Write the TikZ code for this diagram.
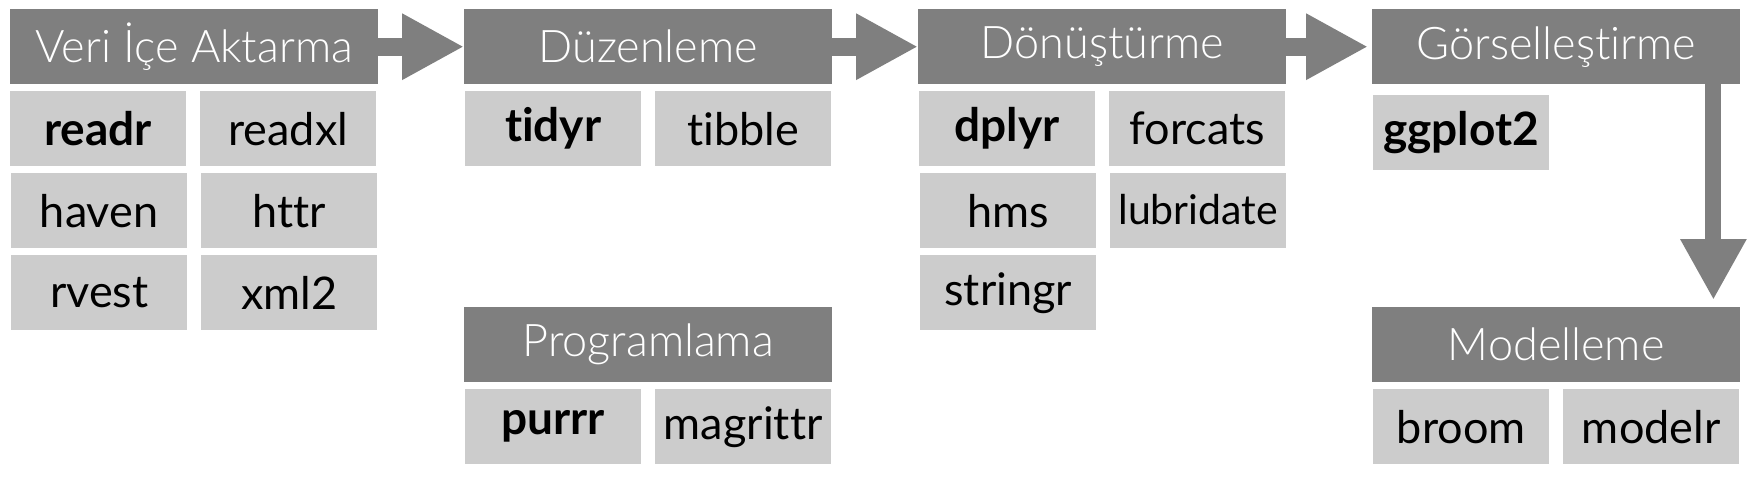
\documentclass[tikz,border=0pt]{standalone}
\usepackage{fontspec}
\setmainfont{Lato}[Ligatures=NoCommon]
\newfontfamily\hdrfont{Lato Light}[Ligatures=NoCommon]
\usetikzlibrary{arrows.meta,calc}
\definecolor{hdrgray}{HTML}{7F7F7F}
\definecolor{pkggray}{HTML}{CCCCCC}
\tikzset{
  hdr/.style={anchor=north west, fill=hdrgray, text=white, minimum width=368pt, minimum height=75pt, inner sep=0pt, font=\hdrfont\fontsize{45}{50}\selectfont},
  pkg/.style={anchor=north west, fill=pkggray, text=black, minimum width=176pt, minimum height=75pt, inner sep=0pt, font=\fontsize{45}{50}\selectfont},
  bpkg/.style={pkg, font=\bfseries\fontsize{46}{50}\selectfont},
  flow/.style={draw=hdrgray, line width=18pt, -{Triangle[length=62pt,width=62pt]}},
  flowv/.style={draw=hdrgray, line width=16pt, -{Triangle[length=61pt,width=62pt]}}
}
\begin{document}
\begin{tikzpicture}[x=1pt,y=-1pt]
\useasboundingbox (0,0) rectangle (1754,482);
% headers
\node[hdr] (h1) at (10,9) {Veri İçe Aktarma};
\node[hdr] (h2) at (464,9) {Düzenleme};
\node[hdr] (h3) at (918,9) {Dönüştürme};
\node[hdr] (h4) at (1372,9) {Görselleştirme};
\node[hdr] (h5) at (464,307) {Programlama};
\node[hdr] (h6) at (1372,307) {Modelleme};
% group 1
\node[bpkg] (readr) at (10,91) {readr};
\node[pkg] (readxl) at (200,91) {readxl};
\node[pkg] (haven) at (11,173) {haven};
\node[pkg] (httr) at (201,173) {httr};
\node[pkg] (rvest) at (11,255) {rvest};
\node[pkg] (xml2) at (201,255) {xml2};
% group 2
\node[bpkg] (tidyr) at (465,91) {tidyr};
\node[pkg] (tibble) at (655,91) {tibble};
\node[bpkg] (purrr) at (465,389) {purrr};
\node[pkg] (magrittr) at (655,389) {magrittr};
% group 3
\node[bpkg] (dplyr) at (919,91) {dplyr};
\node[pkg] (forcats) at (1109,91) {forcats};
\node[pkg] (hms) at (920,173) {hms};
\node[pkg, font=\fontsize{41}{46}\selectfont, text depth=3pt] (lubridate) at (1110,173) {lubridate};
\node[pkg] (stringr) at (920,255) {stringr};
% group 4
\node[bpkg] (ggplot2) at (1373,95) {ggplot2};
\node[pkg] (broom) at (1373,389) {broom};
\node[pkg] (modelr) at (1563,389) {modelr};
% arrows
\draw[flow] (h1.east) -- (h2.west);
\draw[flow] (h2.east) -- (h3.west);
\draw[flow] (h3.east) -- ($(h4.west)+(-4,0)$);
\coordinate (dstart) at ($(h4.south east)+(-27,0)$);
\coordinate (dend) at ($(h6.north east)+(-27,-7)$);
\draw[flowv] (dstart) -- (dend);
\end{tikzpicture}
\end{document}
